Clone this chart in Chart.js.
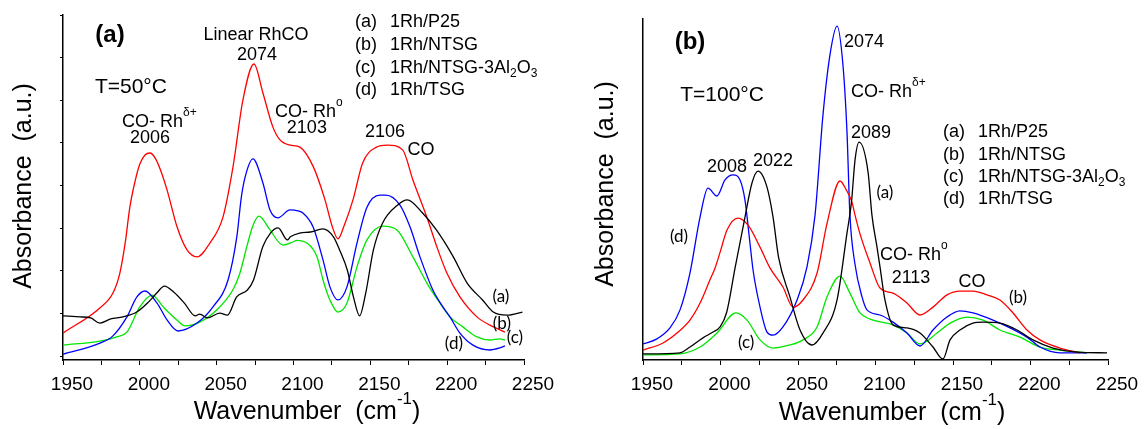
<!DOCTYPE html>
<html>
<head>
<meta charset="utf-8">
<script src="https://cdn.jsdelivr.net/npm/chart.js@4.4.1/dist/chart.umd.min.js"></script>
<style>
  body { margin: 0; background: #fff; }
  canvas { position: absolute; top: 0; }
  #chartA { left: 0; }
  #chartB { left: 572px; }
</style>
</head>
<body>
<canvas id="chartA" width="572" height="429"></canvas>
<canvas id="chartB" width="573" height="429"></canvas>
<script>
// Etiquetas del eje x (número de onda, cm-1)
const wavenumberTicks = [1950, 2000, 2050, 2100, 2150, 2200, 2250];
const sampleMarks = ['(a)', '(b)', '(c)', '(d)'];
const sampleNames = ['1Rh/P25', '1Rh/NTSG', '1Rh/NTSG-3Al2O3', '1Rh/TSG'];

// Panel (a): T = 50 °C
const wnA_P25 = [1950, 1961, 1968, 1974, 1981, 1989, 1998, 2005, 2011, 2016, 2022, 2029, 2036, 2039, 2044, 2052, 2057, 2063, 2070, 2074, 2080, 2085, 2090, 2096, 2098, 2104, 2111, 2119, 2126, 2130, 2135, 2139, 2143, 2147, 2152, 2158, 2168, 2174, 2184, 2193, 2204, 2213, 2223, 2230, 2239, 2249];
const absA_P25 = [0.128, 0.125, 0.122, 0.107, 0.119, 0.125, 0.139, 0.165, 0.194, 0.214, 0.197, 0.165, 0.128, 0.133, 0.122, 0.136, 0.130, 0.183, 0.203, 0.232, 0.328, 0.368, 0.383, 0.348, 0.357, 0.368, 0.371, 0.380, 0.357, 0.319, 0.261, 0.183, 0.128, 0.194, 0.319, 0.397, 0.450, 0.464, 0.426, 0.377, 0.299, 0.223, 0.174, 0.139, 0.130, 0.139];

const wnA_NTSG = [1950, 1974, 1982.5, 1987, 1990.5, 1993.5, 1997, 2000, 2003.5, 2006.6, 2010, 2013.5, 2017.7, 2024.2, 2030.7, 2037.2, 2045.6, 2054.1, 2060.6, 2067.1, 2074.3, 2080.1, 2086.6, 2091.2, 2097.7, 2104.2, 2113, 2120.5, 2125, 2129, 2133, 2138.7, 2145, 2154, 2161, 2171, 2177.7, 2186.8, 2193.3, 2199.8, 2208.3, 2219.4, 2227.8, 2237.6];
const absA_NTSG = [0.078, 0.151, 0.194, 0.252, 0.340, 0.443, 0.520, 0.568, 0.595, 0.600, 0.585, 0.550, 0.493, 0.386, 0.319, 0.299, 0.339, 0.414, 0.559, 0.754, 0.858, 0.774, 0.675, 0.638, 0.623, 0.617, 0.559, 0.464, 0.390, 0.351, 0.390, 0.464, 0.571, 0.617, 0.623, 0.609, 0.522, 0.414, 0.328, 0.252, 0.183, 0.125, 0.101, 0.081];

const wnA_Al2O3 = [1950, 1974, 1985, 1991.6, 2000, 2008, 2015.2, 2024.1, 2029.3, 2039, 2050, 2060.5, 2065, 2069.7, 2073.6, 2077.5, 2084.7, 2093.1, 2099.6, 2102, 2108.8, 2115.3, 2119.2, 2123.7, 2128.9, 2134.8, 2141.3, 2147.8, 2158.2, 2167.3, 2177.7, 2186.8, 2195.3, 2201.8, 2210.2, 2219.4, 2227.8, 2234.3, 2237.6];
const absA_Al2O3 = [0.043, 0.055, 0.067, 0.081, 0.154, 0.188, 0.154, 0.116, 0.099, 0.110, 0.145, 0.203, 0.250, 0.330, 0.390, 0.417, 0.377, 0.333, 0.342, 0.347, 0.339, 0.299, 0.232, 0.174, 0.139, 0.165, 0.270, 0.348, 0.388, 0.377, 0.299, 0.223, 0.165, 0.125, 0.096, 0.067, 0.058, 0.061, 0.058];

const wnA_TSG = [1950, 1974.1, 1982.5, 1991.6, 1998.1, 2003.3, 2011.2, 2017.7, 2024.8, 2037.2, 2047.6, 2057.4, 2063.2, 2066, 2068.5, 2073.6, 2080.1, 2084.7, 2089.9, 2097.7, 2103, 2106.1, 2112.7, 2119.2, 2123.7, 2128.9, 2134.8, 2141.3, 2147.8, 2156.2, 2160, 2169.3, 2175.8, 2182.3, 2190.7, 2197.2, 2201.8, 2208.3, 2216.8, 2227.8, 2234.3, 2237.6];
const absA_TSG = [0.017, 0.049, 0.070, 0.125, 0.183, 0.200, 0.165, 0.116, 0.084, 0.107, 0.154, 0.232, 0.360, 0.470, 0.530, 0.583, 0.513, 0.435, 0.412, 0.435, 0.432, 0.426, 0.386, 0.290, 0.212, 0.174, 0.212, 0.339, 0.443, 0.478, 0.478, 0.449, 0.386, 0.299, 0.203, 0.154, 0.125, 0.078, 0.043, 0.029, 0.035, 0.041];

// Panel (b): T = 100 °C
const wnB_P25 = [1950, 1973.9, 1980.3, 1988.7, 1995.2, 1999.7, 2004, 2009.4, 2015.8, 2020.3, 2024.2, 2030, 2033.9, 2037.5, 2044.8, 2051.3, 2059, 2066.1, 2075.2, 2081.6, 2084.5, 2086.8, 2089.4, 2095.2, 2097.7, 2101, 2102.9, 2106.1, 2111.3, 2120.3, 2128.7, 2137.1, 2143.5, 2148.1, 2154.5, 2162.9, 2169.4, 2180.3, 2191.3, 2201.6, 2214.5, 2230, 2249.4];
const absB_P25 = [0.018, 0.021, 0.038, 0.065, 0.082, 0.097, 0.140, 0.270, 0.419, 0.519, 0.554, 0.507, 0.419, 0.300, 0.185, 0.088, 0.044, 0.079, 0.176, 0.372, 0.463, 0.587, 0.639, 0.551, 0.425, 0.330, 0.273, 0.176, 0.103, 0.094, 0.079, 0.038, 0.003, 0.059, 0.088, 0.108, 0.111, 0.108, 0.088, 0.059, 0.035, 0.023, 0.021];

const wnB_NTSG = [1950, 1962.9, 1971.9, 1980.3, 1986.8, 1993.2, 1996.5, 2000, 2004.2, 2011.3, 2017.7, 2025.5, 2031.9, 2040.3, 2046.8, 2053.2, 2062.3, 2068.7, 2077.1, 2081, 2084.8, 2086.8, 2090, 2096.5, 2102.9, 2111.3, 2120.3, 2128.7, 2137.1, 2146.1, 2154.5, 2162.9, 2171.9, 2180.3, 2188.7, 2197.7, 2206.1, 2219, 2231.9];
const absB_NTSG = [0.029, 0.050, 0.079, 0.117, 0.167, 0.235, 0.270, 0.320, 0.381, 0.416, 0.396, 0.331, 0.270, 0.214, 0.155, 0.176, 0.255, 0.400, 0.525, 0.500, 0.463, 0.425, 0.370, 0.284, 0.211, 0.196, 0.167, 0.132, 0.155, 0.191, 0.202, 0.202, 0.191, 0.176, 0.138, 0.088, 0.059, 0.035, 0.021];

const wnB_Al2O3 = [1950, 1973.9, 1986.8, 1997.7, 2010, 2017.1, 2025.5, 2033.9, 2044.8, 2053.2, 2062.3, 2068.7, 2077.1, 2083.5, 2090, 2096.5, 2111.3, 2120.3, 2128.7, 2139.7, 2148.1, 2159, 2169.4, 2180.3, 2193.2, 2206.1, 2219, 2236.5];
const absB_Al2O3 = [0.015, 0.018, 0.038, 0.079, 0.138, 0.117, 0.059, 0.035, 0.044, 0.059, 0.097, 0.185, 0.246, 0.196, 0.138, 0.120, 0.103, 0.079, 0.047, 0.079, 0.108, 0.126, 0.117, 0.088, 0.067, 0.038, 0.029, 0.021];

const wnB_TSG = [1950, 1959, 1967.4, 1973.9, 1980.3, 1986.8, 1991.9, 1997.7, 2002.9, 2008.1, 2012.6, 2015.8, 2019, 2021, 2025.5, 2030, 2033.9, 2040.3, 2049.4, 2055.8, 2061, 2066.1, 2070.6, 2075.2, 2079, 2081.6, 2083.5, 2086.8, 2091.3, 2094.5, 2102.9, 2111.3, 2120.3, 2128.7, 2137.1, 2146.1, 2154.5, 2162.9, 2175.8, 2186.8, 2197.7, 2206.1, 2219, 2236.5];
const absB_TSG = [0.047, 0.062, 0.094, 0.147, 0.255, 0.419, 0.504, 0.481, 0.528, 0.543, 0.528, 0.469, 0.343, 0.264, 0.155, 0.082, 0.073, 0.097, 0.176, 0.273, 0.425, 0.718, 0.894, 0.979, 0.865, 0.669, 0.425, 0.280, 0.185, 0.147, 0.132, 0.111, 0.079, 0.041, 0.088, 0.126, 0.144, 0.138, 0.117, 0.094, 0.067, 0.038, 0.021, 0.021];

// Marcas (sin etiqueta) del eje y en el panel (a)
const yTickMarksA = [0.01, 0.134, 0.258, 0.381, 0.505, 0.629, 0.753, 0.876, 1.0];

const FONT = "'Liberation Sans', Arial, sans-serif";
const SMALL = "Lato, 'Open Sans', sans-serif";
const colors = { P25: '#000000', NTSG: '#ff0000', Al2O3: '#00e600', TSG: '#0000ff' };

function pts(wn, ab) {
  return wn.map((w, i) => ({ x: w, y: ab[i] }));
}

function serie(label, wn, ab, color) {
  return {
    label: label,
    data: pts(wn, ab),
    borderColor: color,
    borderWidth: 1.3,
    pointRadius: 0,
    fill: false,
    cubicInterpolationMode: 'monotone'
  };
}

function richName(n) {
  if (n.indexOf('Al2O3') >= 0) {
    return [[n.replace('Al2O3', 'Al'), ''], ['2', 'sub'], ['O', ''], ['3', 'sub']];
  }
  return [[n, '']];
}

// Dibuja texto con super/subíndices
function drawRich(ctx, parts, x, y, align, size, family, bold) {
  const fontFor = mode => (bold ? 'bold ' : '') + (mode ? Math.round(size * 0.68) : size) + 'px ' + family;
  let total = 0;
  parts.forEach(p => { ctx.font = fontFor(p[1]); total += ctx.measureText(p[0]).width; });
  let cx = align === 'center' ? x - total / 2 : x;
  ctx.textAlign = 'left';
  ctx.textBaseline = 'middle';
  parts.forEach(p => {
    ctx.font = fontFor(p[1]);
    const dy = p[1] === 'sup' ? -size * 0.5 : (p[1] === 'sub' ? size * 0.3 : 0);
    ctx.fillText(p[0], cx, y + dy);
    cx += ctx.measureText(p[0]).width;
  });
}

function textPlugin(cfg) {
  return {
    id: 'panelText',
    afterDraw(chart) {
      const ctx = chart.ctx;
      const xs = chart.scales.x, ys = chart.scales.y;
      ctx.save();
      ctx.fillStyle = '#000';
      cfg.notes.forEach(n => {
        const parts = typeof n.t === 'string' ? [[n.t, '']] : n.t;
        drawRich(ctx, parts, xs.getPixelForValue(n.x), ys.getPixelForValue(n.y),
          n.align || 'center', n.size || 18, n.family || FONT, n.bold);
      });
      // leyenda como texto
      sampleMarks.forEach((m, i) => {
        const py = ys.getPixelForValue(cfg.legendY[i]);
        drawRich(ctx, [[m, '']], xs.getPixelForValue(cfg.legendX[0]), py, 'left', 18, FONT);
        drawRich(ctx, richName(sampleNames[i]), xs.getPixelForValue(cfg.legendX[1]), py, 'left', 18, FONT);
      });
      // títulos de ejes
      drawRich(ctx, [['Wavenumber  (cm', ''], ['-1', 'sup'], [')', '']], cfg.xTitle[0], cfg.xTitle[1], 'center', 25, FONT);
      ctx.translate(cfg.yTitle[0], cfg.yTitle[1]);
      ctx.rotate(-Math.PI / 2);
      drawRich(ctx, [['Absorbance  (a.u.)', '']], 0, 0, 'center', 25, FONT);
      ctx.restore();
    }
  };
}

function makeChart(id, datasets, cfg) {
  return new Chart(document.getElementById(id), {
    type: 'line',
    data: { datasets: datasets },
    options: {
      responsive: false,
      devicePixelRatio: 1,
      animation: false,
      layout: { padding: cfg.padding },
      plugins: { legend: { display: false }, tooltip: { enabled: false } },
      scales: {
        x: {
          type: 'linear',
          min: 1950,
          max: 2250,
          afterFit: s => { s.height = 69; },
          ticks: {
            stepSize: 25,
            autoSkip: false,
            maxRotation: 0,
            padding: 8,
            labelOffset: 9,
            color: '#000',
            font: { family: FONT, size: 19 },
            callback: v => wavenumberTicks.includes(v) ? String(v) : ''
          },
          grid: { drawOnChartArea: false, drawTicks: true, tickLength: 5, color: '#000', lineWidth: 1 },
          border: { display: true, color: '#000', width: 1.5 }
        },
        y: {
          min: 0,
          max: 1,
          afterFit: s => { s.width = cfg.yWidth; },
          afterBuildTicks: s => { if (cfg.yMarks) s.ticks = cfg.yMarks.map(v => ({ value: v })); },
          ticks: { display: false },
          grid: { display: !!cfg.yMarks, drawOnChartArea: false, drawTicks: true, tickLength: 3, color: '#000' },
          border: { display: true, color: '#000', width: 1.5 }
        }
      }
    },
    plugins: [textPlugin(cfg)]
  });
}

makeChart('chartA', [
  serie('1Rh/P25', wnA_P25, absA_P25, colors.P25),
  serie('1Rh/NTSG', wnA_NTSG, absA_NTSG, colors.NTSG),
  serie('1Rh/TSG', wnA_TSG, absA_TSG, colors.TSG),
  serie('1Rh/NTSG-3Al2O3', wnA_Al2O3, absA_Al2O3, colors.Al2O3)
], {
  padding: { left: 0, right: 48, top: 15, bottom: 0 },
  yWidth: 63,
  yMarks: yTickMarksA,
  xTitle: [307, 412],
  yTitle: [24, 186],
  legendX: [2140, 2162.8],
  legendY: [0.980, 0.913, 0.846, 0.783],
  notes: [
    { x: 1980.6, y: 0.942, t: '(a)', size: 24, bold: true },
    { x: 2075.6, y: 0.942, t: 'Linear RhCO' },
    { x: 2076.2, y: 0.884, t: '2074' },
    { x: 1994.2, y: 0.791, t: 'T=50°C', size: 21 },
    { x: 1988.4, y: 0.690, t: [['CO- Rh', ''], ['δ+', 'sup']], align: 'left' },
    { x: 2006.6, y: 0.643, t: '2006' },
    { x: 2087.9, y: 0.719, t: [['CO- Rh', ''], ['o', 'sup']], align: 'left' },
    { x: 2108.7, y: 0.672, t: '2103' },
    { x: 2159.5, y: 0.661, t: '2106' },
    { x: 2182.9, y: 0.609, t: 'CO' },
    { x: 2235.0, y: 0.183, t: '(a)', size: 17, family: SMALL },
    { x: 2235.6, y: 0.107, t: '(b)', size: 17, family: SMALL },
    { x: 2244.1, y: 0.064, t: '(c)', size: 17, family: SMALL },
    { x: 2204.4, y: 0.049, t: '(d)', size: 17, family: SMALL }
  ]
});

makeChart('chartB', [
  serie('1Rh/P25', wnB_P25, absB_P25, colors.P25),
  serie('1Rh/NTSG', wnB_NTSG, absB_NTSG, colors.NTSG),
  serie('1Rh/TSG', wnB_TSG, absB_TSG, colors.TSG),
  serie('1Rh/NTSG-3Al2O3', wnB_Al2O3, absB_Al2O3, colors.Al2O3)
], {
  padding: { left: 0, right: 37, top: 19, bottom: 0 },
  yWidth: 71,
  yMarks: null,
  xTitle: [320, 413],
  yTitle: [34, 184],
  legendX: [2143.5, 2166.1],
  legendY: [0.669, 0.601, 0.537, 0.472],
  notes: [
    { x: 1980.3, y: 0.930, t: '(b)', size: 24, bold: true },
    { x: 2001.0, y: 0.777, t: 'T=100°C', size: 21 },
    { x: 2079.7, y: 0.933, t: '2074', align: 'left' },
    { x: 2084.2, y: 0.786, t: [['CO- Rh', ''], ['δ+', 'sup']], align: 'left' },
    { x: 2097.1, y: 0.666, t: '2089' },
    { x: 2106.1, y: 0.490, t: '(a)', size: 17, family: SMALL },
    { x: 2004.2, y: 0.566, t: '2008' },
    { x: 2033.9, y: 0.584, t: '2022' },
    { x: 1973.2, y: 0.361, t: '(d)', size: 17, family: SMALL },
    { x: 2016.5, y: 0.050, t: '(c)', size: 17, family: SMALL },
    { x: 2102.9, y: 0.308, t: [['CO- Rh', ''], ['o', 'sup']], align: 'left' },
    { x: 2122.9, y: 0.240, t: '2113' },
    { x: 2162.3, y: 0.229, t: 'CO' },
    { x: 2191.9, y: 0.182, t: '(b)', size: 17, family: SMALL }
  ]
});
</script>
</body>
</html>
